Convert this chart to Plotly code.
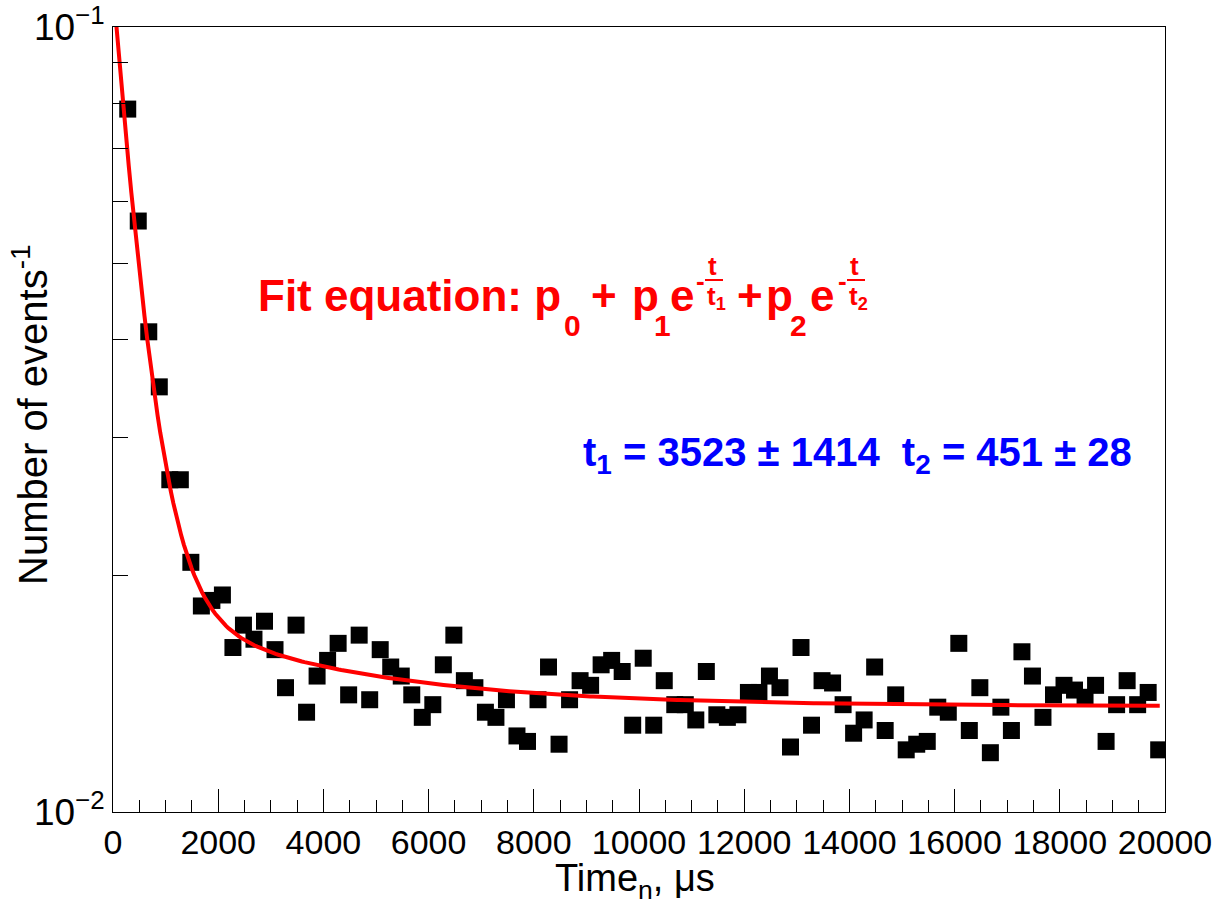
import numpy as np
import plotly.graph_objects as go

# ---------------- data ----------------
time_us = [280, 480, 680, 880, 1080, 1280, 1480, 1680, 1880, 2080,
           2280, 2480, 2680, 2880, 3080, 3280, 3480, 3680, 3880, 4080,
           4280, 4480, 4680, 4880, 5080, 5280, 5480, 5680, 5880, 6080,
           6280, 6480, 6680, 6880, 7080, 7280, 7480, 7680, 7880, 8080,
           8280, 8480, 8680, 8880, 9080, 9280, 9480, 9680, 9880, 10080,
           10280, 10480, 10680, 10880, 11080, 11280, 11480, 11680, 11880, 12080,
           12280, 12480, 12680, 12880, 13080, 13280, 13480, 13680, 13880, 14080,
           14280, 14480, 14680, 14880, 15080, 15280, 15480, 15680, 15880, 16080,
           16280, 16480, 16680, 16880, 17080, 17280, 17480, 17680, 17880, 18080,
           18280, 18480, 18680, 18880, 19080, 19280, 19480, 19680, 19880]

inv_events = [0.0786, 0.0566, 0.0409, 0.0348, 0.0265, 0.0265, 0.0208, 0.0183, 0.0186, 0.0189,
              0.0162, 0.0173, 0.0166, 0.0175, 0.0161, 0.0144, 0.0173, 0.0134, 0.0149, 0.0156,
              0.0164, 0.0141, 0.0168, 0.0139, 0.0161, 0.0153, 0.0149, 0.0141, 0.0132, 0.0137,
              0.0154, 0.0168, 0.0147, 0.0144, 0.0134, 0.0132, 0.0139, 0.0125, 0.0123, 0.0139,
              0.0153, 0.0122, 0.0139, 0.0147, 0.0145, 0.0154, 0.0156, 0.0151, 0.0129, 0.0157,
              0.0129, 0.0147, 0.0137, 0.0137, 0.0131, 0.0151, 0.0133, 0.0132, 0.0133, 0.0142,
              0.0142, 0.0149, 0.0144, 0.0121, 0.0162, 0.0129, 0.0147, 0.0146, 0.0137, 0.0126,
              0.0131, 0.0153, 0.0127, 0.0141, 0.0120, 0.0122, 0.0123, 0.0136, 0.0134, 0.0164,
              0.0127, 0.0144, 0.0119, 0.0136, 0.0127, 0.0160, 0.0149, 0.0132, 0.0141, 0.0145,
              0.0143, 0.0140, 0.0145, 0.0123, 0.0137, 0.0147, 0.0137, 0.0142, 0.0120]

# fit parameters  p0 + p1*exp(-t/t1) + p2*exp(-t/t2)
p0, p1, p2 = 0.01364, 0.0052, 0.0935
t1, t2 = 3523.0, 451.0
fit_range = [0, 19900]

x_ticks = [0, 2000, 4000, 6000, 8000, 10000, 12000, 14000, 16000, 18000, 20000]
y_major = [0.01, 0.1]
y_major_text = ["10<sup>\u22122</sup>", "10<sup>\u22121</sup>"]
y_minor = [0.02, 0.03, 0.04, 0.05, 0.06, 0.07, 0.08, 0.09]

# ---------------- figure ----------------
W, H = 1221, 911
L, R, T, B = 113, 56, 27, 99
pw, ph = W - L - R, H - T - B

def px(x):
    return (x - L) / pw

def py(y):
    return (H - B - y) / ph

tf = np.linspace(fit_range[0], fit_range[1], 400)
yf = p0 + p1 * np.exp(-tf / t1) + p2 * np.exp(-tf / t2)

fig = go.Figure()
fig.add_trace(go.Scatter(x=time_us, y=inv_events, mode="markers",
                         marker=dict(symbol="square", size=17, color="black",
                                     line=dict(width=0)),
                         showlegend=False))
fig.add_trace(go.Scatter(x=tf, y=yf, mode="lines",
                         line=dict(color="#ff0000", width=4),
                         showlegend=False))

FONT = "Liberation Sans, Arial, sans-serif"

fig.update_layout(
    width=W, height=H,
    margin=dict(l=L, r=R, t=T, b=B, pad=0, autoexpand=False),
    paper_bgcolor="white", plot_bgcolor="white",
    font=dict(family=FONT, color="black"),
    xaxis=dict(range=[0, 20000], tickvals=x_ticks, tickformat="d", automargin=False,
               ticks="inside", ticklen=23, tickwidth=1, tickcolor="black",
               minor=dict(dtick=500, tick0=0, ticks="inside", ticklen=12,
                          tickcolor="black", tickwidth=1),
               showline=True, linecolor="black", linewidth=1, mirror=True,
               showgrid=False, zeroline=False,
               tickfont=dict(size=34, family=FONT)),
    yaxis=dict(type="log", range=[-2, -1], tickmode="array", automargin=False,
               tickvals=y_major, ticktext=y_major_text,
               ticks="inside", ticklen=30, tickwidth=1, tickcolor="black",
               minor=dict(tickmode="array", tickvals=y_minor, ticks="inside",
                          ticklen=15, tickcolor="black", tickwidth=1),
               showline=True, linecolor="black", linewidth=1, mirror=True,
               showgrid=False, zeroline=False,
               tickfont=dict(size=37, family=FONT)),
)

RED = "#ff0000"
BLUE = "#0000ff"
ann = []
def txt(s, x, y, size, color, bold=True, xanchor="left", angle=0):
    ann.append(dict(text=(f"<b>{s}</b>" if bold else s), x=px(x), y=py(y),
                    xref="paper", yref="paper", xanchor=xanchor, yanchor="middle",
                    textangle=angle, showarrow=False,
                    font=dict(size=size, color=color, family=FONT)))

# axis titles
txt("Time<sub>n</sub>, \u03bcs", 635, 881, 38, "black", bold=False, xanchor="center")
txt("Number of events<sup>-1</sup>", 30, 415, 40, "black", bold=False, xanchor="center", angle=-90)

# fit equation
BIG, SUB, FR = 44, 30, 26
EQY, SUBY = 295, 325
txt("Fit equation: p", 256, EQY, BIG, RED)
txt("0", 562, SUBY, SUB, RED)
txt("+", 589, EQY, BIG, RED)
txt("p", 630, EQY, BIG, RED)
txt("1", 652, SUBY, SUB, RED)
txt("e", 668, EQY, BIG, RED)
txt("-", 694, 281, FR, RED)
txt("t", 712, 266, FR, RED, xanchor="center")
txt("t<sub>1</sub>", 716, 297, FR, RED, xanchor="center")
txt("+", 735, EQY, BIG, RED)
txt("p", 764, EQY, BIG, RED)
txt("2", 788, SUBY, SUB, RED)
txt("e", 808, EQY, BIG, RED)
txt("-", 836, 281, FR, RED)
txt("t", 854, 266, FR, RED, xanchor="center")
txt("t<sub>2</sub>", 858, 297, FR, RED, xanchor="center")
fig.update_layout(shapes=[
    dict(type="line", xref="paper", yref="paper", x0=px(705), x1=px(723), y0=py(280), y1=py(280),
         line=dict(color=RED, width=2)),
    dict(type="line", xref="paper", yref="paper", x0=px(847), x1=px(865), y0=py(280), y1=py(280),
         line=dict(color=RED, width=2)),
])

# fit results
txt("t<sub>1</sub> = 3523 \u00b1 1414  t<sub>2</sub> = 451 \u00b1 28", 581, 455, 40, BLUE)

fig.update_layout(annotations=ann)
fig.write_html("out.html")
